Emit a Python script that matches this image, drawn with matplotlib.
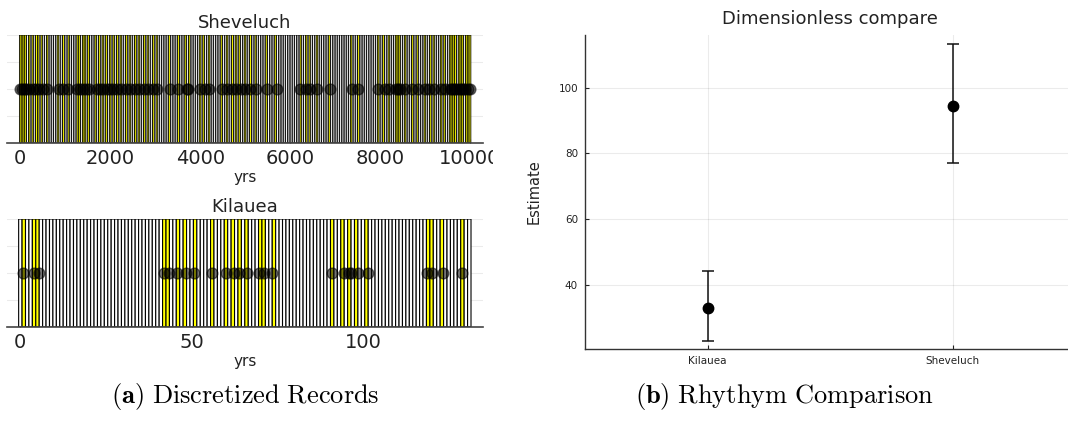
import numpy as np
import matplotlib
matplotlib.use("Agg")
import matplotlib.pyplot as plt
from matplotlib.transforms import Bbox, TransformedBbox

# ---------------- data ----------------
shev_events = [0, 40, 80, 130, 200, 280, 350, 420, 500, 600,
               850, 950, 1070,
               1260, 1330, 1400, 1450, 1520,
               1700, 1780, 1850, 1920, 2000,
               2070, 2150, 2250, 2350, 2450, 2550, 2650, 2750, 2850, 2950, 3050,
               3330, 3500, 3700, 3740,
               4000, 4100, 4200,
               4480, 4600, 4700, 4800, 4900, 5000, 5100, 5250,
               5480, 5700,
               6220, 6350, 6450, 6600,
               6890,
               7370, 7500,
               7960, 8100, 8200, 8350, 8400, 8450, 8550, 8700, 8850, 9000,
               9100, 9200, 9350, 9450, 9550, 9600, 9650, 9700, 9750, 9800,
               9850, 9900, 9950, 10000]
shev_bin = 40
shev_max = 10000

kil_events = [0.8, 3.9, 5.4, 41.9, 43.3, 45.8, 48.2, 50.6, 56.0, 59.9, 62.4,
              63.8, 66.2, 69.6, 71.1, 73.5, 91.0, 94.4, 96.0, 96.4, 98.4,
              101.3, 118.8, 120.2, 123.2, 129.0]
kil_bin = 1
kil_max = 131

cmp_names = ["Kilauea", "Sheveluch"]
cmp_est = [33.0, 94.3]
cmp_low = [23.0, 77.2]
cmp_high = [44.3, 113.2]

shev_ticks = [0, 2000, 4000, 6000, 8000, 10000]
kil_ticks = [0, 50, 100]
cmp_yticks = [40, 60, 80, 100]

# ---------------- figure ----------------
W, H = 1068, 421
fig = plt.figure(figsize=(W / 100, H / 100), dpi=100)


def px_axes(l, t, r, b):
    return fig.add_axes([l / W, 1 - b / H, (r - l) / W, (b - t) / H])


def record_panel(ax, events, binw, xmax, xlim, ticks, title, lw, ec, snap):
    centers = np.arange(0, xmax + binw / 2, binw)
    ev = np.asarray(events, dtype=float)
    idx = np.round(ev / binw).astype(int)
    hit = np.zeros(len(centers), dtype=bool)
    hit[np.clip(idx, 0, len(centers) - 1)] = True
    colors = ["#ffff00" if h else "white" for h in hit]
    bars = ax.bar(centers, np.ones(len(centers)), width=binw, color=colors,
                  edgecolor=ec, linewidth=lw, zorder=2)
    for b in bars:
        b.set_snap(snap)
    ax.scatter(ev, np.full(len(ev), 0.5), s=60, color="black", alpha=0.55,
               edgecolors="black", linewidths=1.0, zorder=3)
    ax.set_xlim(*xlim)
    ax.set_ylim(0, 1.0)
    ax.set_yticks([0.25, 0.5, 0.75, 1.0])
    ax.set_yticklabels([])
    ax.tick_params(axis="y", length=0)
    ax.grid(axis="y", color="#000000", alpha=0.08, linewidth=0.8, zorder=0)
    ax.set_axisbelow(True)
    ax.set_xticks(ticks)
    ax.tick_params(axis="x", direction="in", length=3, labelsize=14,
                   colors="#222222", pad=4)
    for s in ["left", "right", "top"]:
        ax.spines[s].set_visible(False)
    ax.spines["bottom"].set_color("#444444")
    ax.spines["bottom"].set_linewidth(1.2)
    ax.spines["bottom"].set_zorder(4)
    ax.set_xlabel("yrs", fontsize=11, color="#222222", labelpad=2)
    ax.set_title(title, fontsize=13, color="#222222", pad=5)


ax1 = px_axes(7, 35, 483, 143)
record_panel(ax1, shev_events, shev_bin, shev_max, (-296, 10290), shev_ticks,
             "Sheveluch", 0.6, "black", False)
clip = TransformedBbox(Bbox([[0, 0], [493 / W, 1]]), fig.transFigure)
for lab in ax1.get_xticklabels():
    lab.set_clip_box(clip)
    lab.set_clip_on(True)

ax2 = px_axes(7, 219, 483, 327)
record_panel(ax2, kil_events, kil_bin, kil_max, (-3.9, 135), kil_ticks,
             "Kilauea", 0.8, "black", False)

# ---------------- comparison panel ----------------
ax3 = px_axes(585, 35, 1075, 349)
xpos = np.arange(len(cmp_names)) + 0.5
est = np.array(cmp_est)
yerr = np.vstack([est - np.array(cmp_low), np.array(cmp_high) - est])
ax3.errorbar(xpos, est, yerr=yerr, fmt="o", color="black", markersize=7.5,
             ecolor="#111111", elinewidth=1.1, capsize=4.5, capthick=1.1,
             zorder=3)
ax3.set_xlim(0, 2)
ax3.set_ylim(20.5, 116)
ax3.set_xticks(xpos)
ax3.set_xticklabels(cmp_names)
ax3.set_yticks(cmp_yticks)
ax3.grid(True, color="#000000", alpha=0.08, linewidth=0.8)
ax3.set_axisbelow(True)
ax3.tick_params(direction="in", length=3, labelsize=7.5, colors="#222222",
                pad=5)
for s in ["right", "top"]:
    ax3.spines[s].set_visible(False)
for s in ["left", "bottom"]:
    ax3.spines[s].set_color("#333333")
    ax3.spines[s].set_linewidth(1.0)
ax3.set_ylabel("Estimate", fontsize=10.5, color="#222222", labelpad=12)
ax3.set_title("Dimensionless compare", fontsize=13, color="#222222", pad=8)

# ---------------- captions ----------------
plt.rcParams["mathtext.fontset"] = "cm"
fig.text(245 / W, 1 - 397 / H, r"$\mathbf{(a)}\ \mathrm{Discretized\ Records}$",
         ha="center", va="center", fontsize=19)
fig.text(784 / W, 1 - 397 / H, r"$\mathbf{(b)}\ \mathrm{Rhythym\ Comparison}$",
         ha="center", va="center", fontsize=19)

fig.savefig("out.png", dpi=100)
